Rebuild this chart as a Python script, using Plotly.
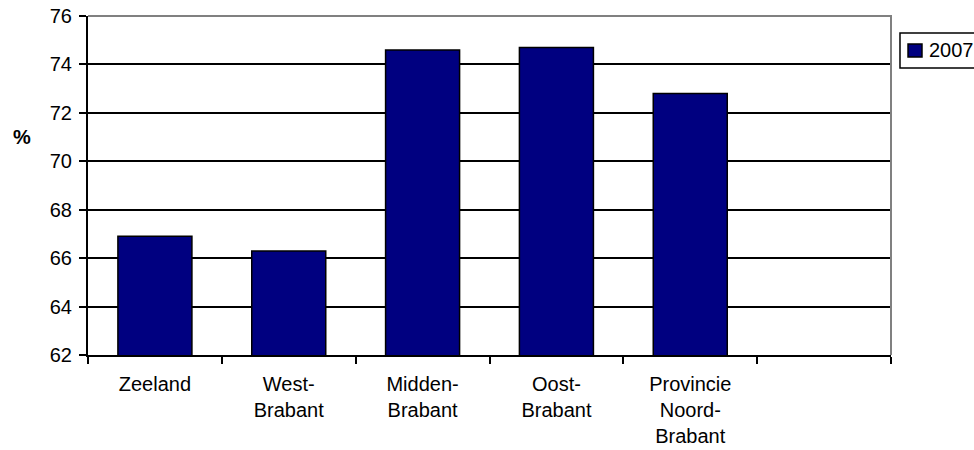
import plotly.graph_objects as go

categories = ["Zeeland", "West-<br>Brabant", "Midden-<br>Brabant", "Oost-<br>Brabant",
              "Provincie<br>Noord-<br>Brabant", " "]
values_2007 = [66.9, 66.3, 74.6, 74.7, 72.8, None]
series_name = "2007"
y_ticks = [62, 64, 66, 68, 70, 72, 74, 76]

FONT = "Liberation Sans, Arial, sans-serif"
NAVY = "#000080"

fig = go.Figure()
fig.add_trace(go.Bar(
    x=categories, y=values_2007, name=series_name,
    marker=dict(color=NAVY, line=dict(color="#000000", width=1.5)),
    showlegend=False,
))

fig.update_layout(
    width=974, height=450,
    margin=dict(l=88, r=83, t=16, b=95, autoexpand=False),
    paper_bgcolor="white", plot_bgcolor="white",
    font=dict(family=FONT, size=20, color="black"),
    bargap=0.447,
    showlegend=False,
    xaxis=dict(type="category", categoryorder="array", categoryarray=categories,
               range=[-0.5, 5.5], showgrid=False, zeroline=False,
               showline=True, linecolor="black", linewidth=2,
               ticks="outside", tickson="boundaries", ticklen=7, tickwidth=2,
               tickcolor="black", ticklabelstandoff=10, tickfont=dict(size=20)),
    yaxis=dict(range=[62, 76], tickvals=y_ticks, showgrid=True, gridcolor="black",
               gridwidth=1.5, zeroline=False, showline=True, linecolor="black",
               linewidth=2, ticks="outside", ticklen=7, tickwidth=2,
               tickcolor="black", ticklabelstandoff=3, tickfont=dict(size=20)),
    shapes=[
        dict(type="path", xref="paper", yref="paper", path="M0,1 L1,1 L1,0",
             line=dict(color="#808080", width=2), layer="above"),
        # legend box
        dict(type="rect", xref="paper", yref="paper", x0=1.0112, x1=1.125,
             y0=0.8466, y1=0.9499, line=dict(color="black", width=1.5),
             fillcolor="white", layer="above"),
        # legend swatch
        dict(type="rect", xref="paper", yref="paper", x0=1.0212, x1=1.0386,
             y0=0.8791, y1=0.9174, line=dict(color="black", width=1.5),
             fillcolor=NAVY, layer="above"),
    ],
    annotations=[
        dict(text="<b>%</b>", xref="paper", yref="paper", x=-0.0816, y=0.643,
             showarrow=False, font=dict(size=20), xanchor="center", yanchor="middle"),
        dict(text=series_name, xref="paper", yref="paper", x=1.0448, y=0.8997,
             showarrow=False, font=dict(size=20), xanchor="left", yanchor="middle"),
    ],
)

fig.write_html("out.html", config={"displayModeBar": False},
               post_script="document.body.style.margin='0';document.body.style.overflow='hidden';")
